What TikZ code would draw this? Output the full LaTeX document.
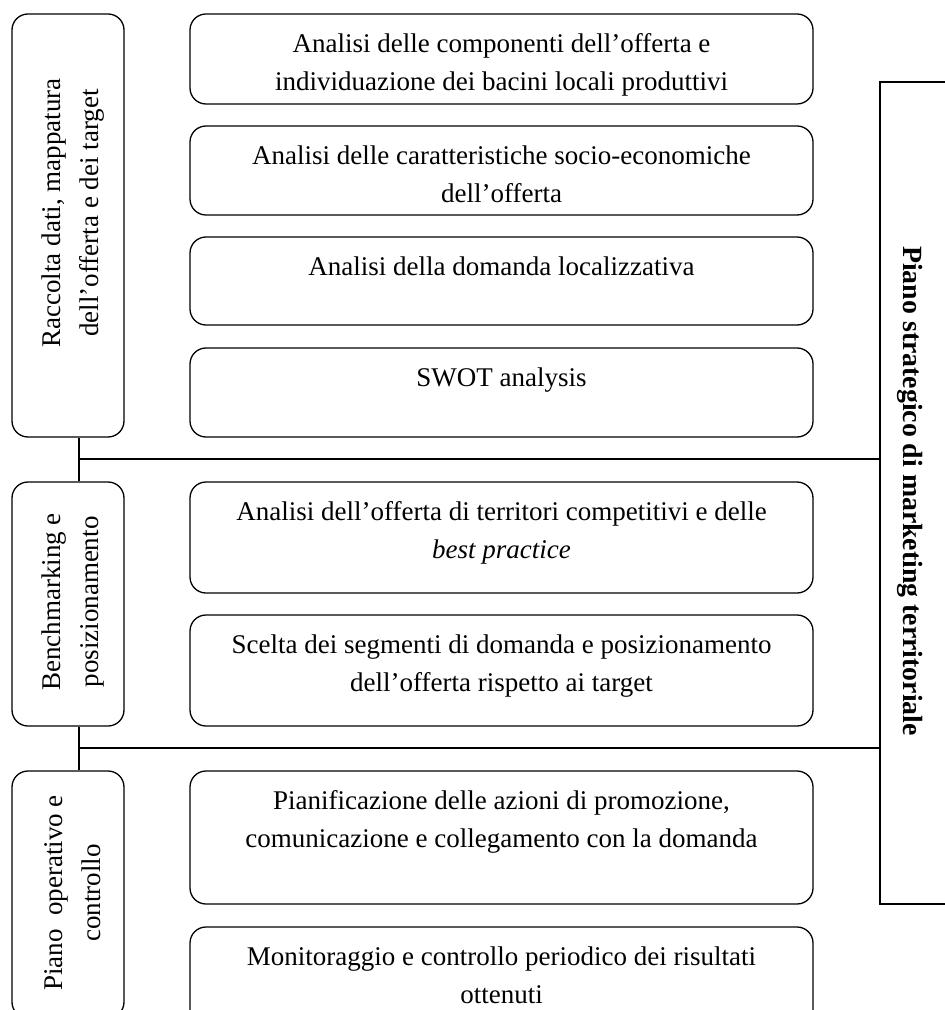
\documentclass[tikz,border=0pt]{standalone}
\usepackage{fontspec}
\setmainfont{Liberation Serif}
\usetikzlibrary{fit}
\begin{document}
\begin{tikzpicture}[x=0.5pt,y=-0.5pt,
  rbox/.style={draw, line width=0.65pt, rounded corners=8pt, inner sep=0pt},
  sqbox/.style={draw, line width=0.65pt, inner sep=0pt},
  txt/.style={anchor=north, inner sep=0pt, align=center, font=\fontsize{13.5}{19}\selectfont},
  side/.style={inner sep=0pt, align=center, font=\fontsize{13.5}{19}\selectfont},
  conn/.style={line width=0.65pt}]
\useasboundingbox (0,0) rectangle (944,1010);
% left phase boxes
\node[rbox, fit={(12,14)(124,437)}] (L1) {};
\node[rbox, fit={(12,482)(124,726)}] (L2) {};
\node[rbox, fit={(12,771)(124,1018)}] (L3) {};
\node[side, rotate=90] (l1t) at (73,213) {Raccolta dati, mappatura\\dell’offerta e dei target};
\node[side, rotate=90] (l2t) at (73,602) {Benchmarking e\\posizionamento};
\node[side, rotate=90] (l3t) at (73,893) {Piano\ \ operativo e\\controllo};
% right activity boxes
\node[rbox, fit={(190,14)(813,104)}] (R1) {};
\node[rbox, fit={(190,126)(813,215)}] (R2) {};
\node[rbox, fit={(190,237)(813,325)}] (R3) {};
\node[rbox, fit={(190,348)(813,437)}] (R4) {};
\node[rbox, fit={(190,482)(813,593)}] (R5) {};
\node[rbox, fit={(190,615)(813,726)}] (R6) {};
\node[rbox, fit={(190,771)(813,904)}] (R7) {};
\node[rbox, fit={(190,927)(813,1030)}] (R8) {};
\node[txt] (r1t) at (501.5,26) {\rule{0pt}{13pt}Analisi delle componenti dell’offerta e\\individuazione dei bacini locali produttivi};
\node[txt] (r2t) at (501.5,138) {\rule{0pt}{13pt}Analisi delle caratteristiche socio-economiche\\dell’offerta};
\node[txt] (r3t) at (501.5,249) {\rule{0pt}{13pt}Analisi della domanda localizzativa};
\node[txt] (r4t) at (501.5,360) {\rule{0pt}{13pt}SWOT analysis};
\node[txt] (r5t) at (501.5,494) {\rule{0pt}{13pt}Analisi dell’offerta di territori competitivi e delle\\\textit{best practice}};
\node[txt] (r6t) at (501.5,627) {\rule{0pt}{13pt}Scelta dei segmenti di domanda e posizionamento\\dell’offerta rispetto ai target};
\node[txt] (r7t) at (501.5,783) {\rule{0pt}{13pt}Pianificazione delle azioni di promozione,\\comunicazione e collegamento con la domanda};
\node[txt] (r8t) at (501.5,939) {\rule{0pt}{13pt}Monitoraggio e controllo periodico dei risultati\\ottenuti};
% strategic plan box
\node[sqbox, fit={(880,82)(965,904)}] (B) {};
\node[side, rotate=-90, font=\fontsize{13.9}{19}\selectfont\bfseries] (bt) at (910,491) {Piano strategico di marketing territoriale};
% connectors
\coordinate (j1) at (79,459);
\coordinate (j2) at (79,748);
\draw[conn] (L1.south -| j1) -- (L2.north -| j1);
\draw[conn] (L2.south -| j2) -- (L3.north -| j2);
\draw[conn] (j1) -- (j1 -| B.west);
\draw[conn] (j2) -- (j2 -| B.west);
\end{tikzpicture}
\end{document}
